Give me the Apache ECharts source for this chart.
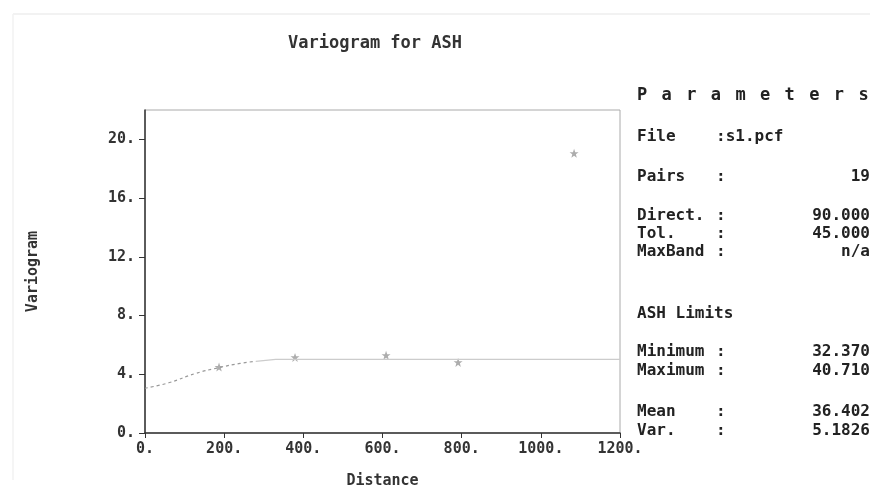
<!DOCTYPE html>
<html><head><meta charset="utf-8">
<script src="https://cdn.jsdelivr.net/npm/echarts@6/dist/echarts.min.js"></script>
<style>html,body{margin:0;padding:0;background:#fff;}#c{width:883px;height:494px;}</style>
</head><body><div id="c"></div>
<script>
// Experimental variogram points [distance, gamma]
var points = [[187, 4.49], [379, 5.15], [609, 5.29], [791, 4.81], [1084, 19.05]];
// Model curve: dotted rising part and flat sill
var modelRise = [[0, 3.05], [60, 3.42], [127, 4.05], [187, 4.45], [240, 4.74], [280, 4.88]];
var modelSill = [[280, 4.88], [330, 5.02], [1200, 5.02]];
var xTicks = [0, 200, 400, 600, 800, 1000, 1200];
var yTicks = [0, 4, 8, 12, 16, 20];
var paramRows = [
  ['File', ':s1.pcf', ''],
  ['Pairs', ':', '19'],
  ['Direct.', ':', '90.000'],
  ['Tol.', ':', '45.000'],
  ['MaxBand', ':', 'n/a'],
  ['ASH Limits', '', ''],
  ['Minimum', ':', '32.370'],
  ['Maximum', ':', '40.710'],
  ['Mean', ':', '36.402'],
  ['Var.', ':', '5.1826']
];
var paramY = [138, 178, 217, 235, 253, 315, 353, 372, 413, 432];

var FONT = '"DejaVu Sans Mono", "Liberation Mono", monospace';
var chart = echarts.init(document.getElementById('c'));
var star = 'path://M0,-10 L2.5,-3 L10,-3 L4,1.5 L6,9 L0,4.5 L-6,9 L-4,1.5 L-10,-3 L-2.5,-3 Z';

var graphics = [
  {type: 'line', shape: {x1: 13, y1: 14, x2: 870, y2: 14}, style: {stroke: '#eeeeee', lineWidth: 1.5}},
  {type: 'line', shape: {x1: 13, y1: 14, x2: 13, y2: 480}, style: {stroke: '#f2f2f2', lineWidth: 1.5}}
];
var title = 'Parameters';
for (var i = 0; i < title.length; i++) {
  graphics.push({type: 'text', left: 637 + i * 24.6, top: 87,
    style: {text: title[i], font: 'bold 17px ' + FONT, fill: '#222'}});
}
paramRows.forEach(function (r, i) {
  var y = paramY[i] - 9;
  graphics.push({type: 'text', left: 637, top: y, style: {text: r[0], font: 'bold 16px ' + FONT, fill: '#222'}});
  if (r[1]) {
    graphics.push({type: 'text', left: 716, top: y, style: {text: r[1], font: 'bold 16px ' + FONT, fill: '#222'}});
  }
  if (r[2]) {
    graphics.push({type: 'text', right: 13, top: y, style: {text: r[2], font: 'bold 16px ' + FONT, fill: '#222', textAlign: 'right'}});
  }
});
graphics.push({type: 'text', left: 288, top: 35, style: {text: 'Variogram for ASH', font: 'bold 17px ' + FONT, fill: '#333'}});

chart.setOption({
  animation: false,
  backgroundColor: '#fff',
  grid: {left: 145, top: 110, width: 475, height: 325, show: true, borderColor: '#aaa', borderWidth: 1},
  graphic: graphics,
  xAxis: {
    type: 'value', min: xTicks[0], max: xTicks[xTicks.length - 1], interval: 200,
    name: 'Distance', nameLocation: 'middle', nameGap: 41,
    nameTextStyle: {fontFamily: FONT, fontWeight: 'bold', fontSize: 15, color: '#333'},
    axisLine: {lineStyle: {color: '#333', width: 1.5}},
    axisTick: {length: 5, lineStyle: {color: '#333'}},
    splitLine: {show: false},
    axisLabel: {fontFamily: FONT, fontWeight: 'bold', fontSize: 15, color: '#333', margin: 9,
      formatter: function (v) { return v + '.'; }}
  },
  yAxis: {
    type: 'value', min: 0, max: 22, interval: 4,
    name: 'Variogram', nameLocation: 'middle', nameGap: 104, nameRotate: 90,
    nameTextStyle: {fontFamily: FONT, fontWeight: 'bold', fontSize: 15, color: '#333'},
    axisLine: {lineStyle: {color: '#333', width: 1.5}},
    axisTick: {length: 6, lineStyle: {color: '#333'}},
    splitLine: {show: false},
    axisLabel: {fontFamily: FONT, fontWeight: 'bold', fontSize: 15, color: '#333', margin: 10, showMaxLabel: false,
      formatter: function (v) { return yTicks.indexOf(v) >= 0 ? v + '.' : ''; }}
  },
  series: [
    {type: 'line', data: modelRise, showSymbol: false, smooth: true,
      lineStyle: {color: '#999', width: 1.2, type: [3, 3]}},
    {type: 'line', data: modelSill, showSymbol: false,
      lineStyle: {color: '#ccc', width: 1.2}},
    {type: 'scatter', data: points, symbol: star, symbolSize: 9,
      itemStyle: {color: '#999'}}
  ]
});
</script></body></html>
